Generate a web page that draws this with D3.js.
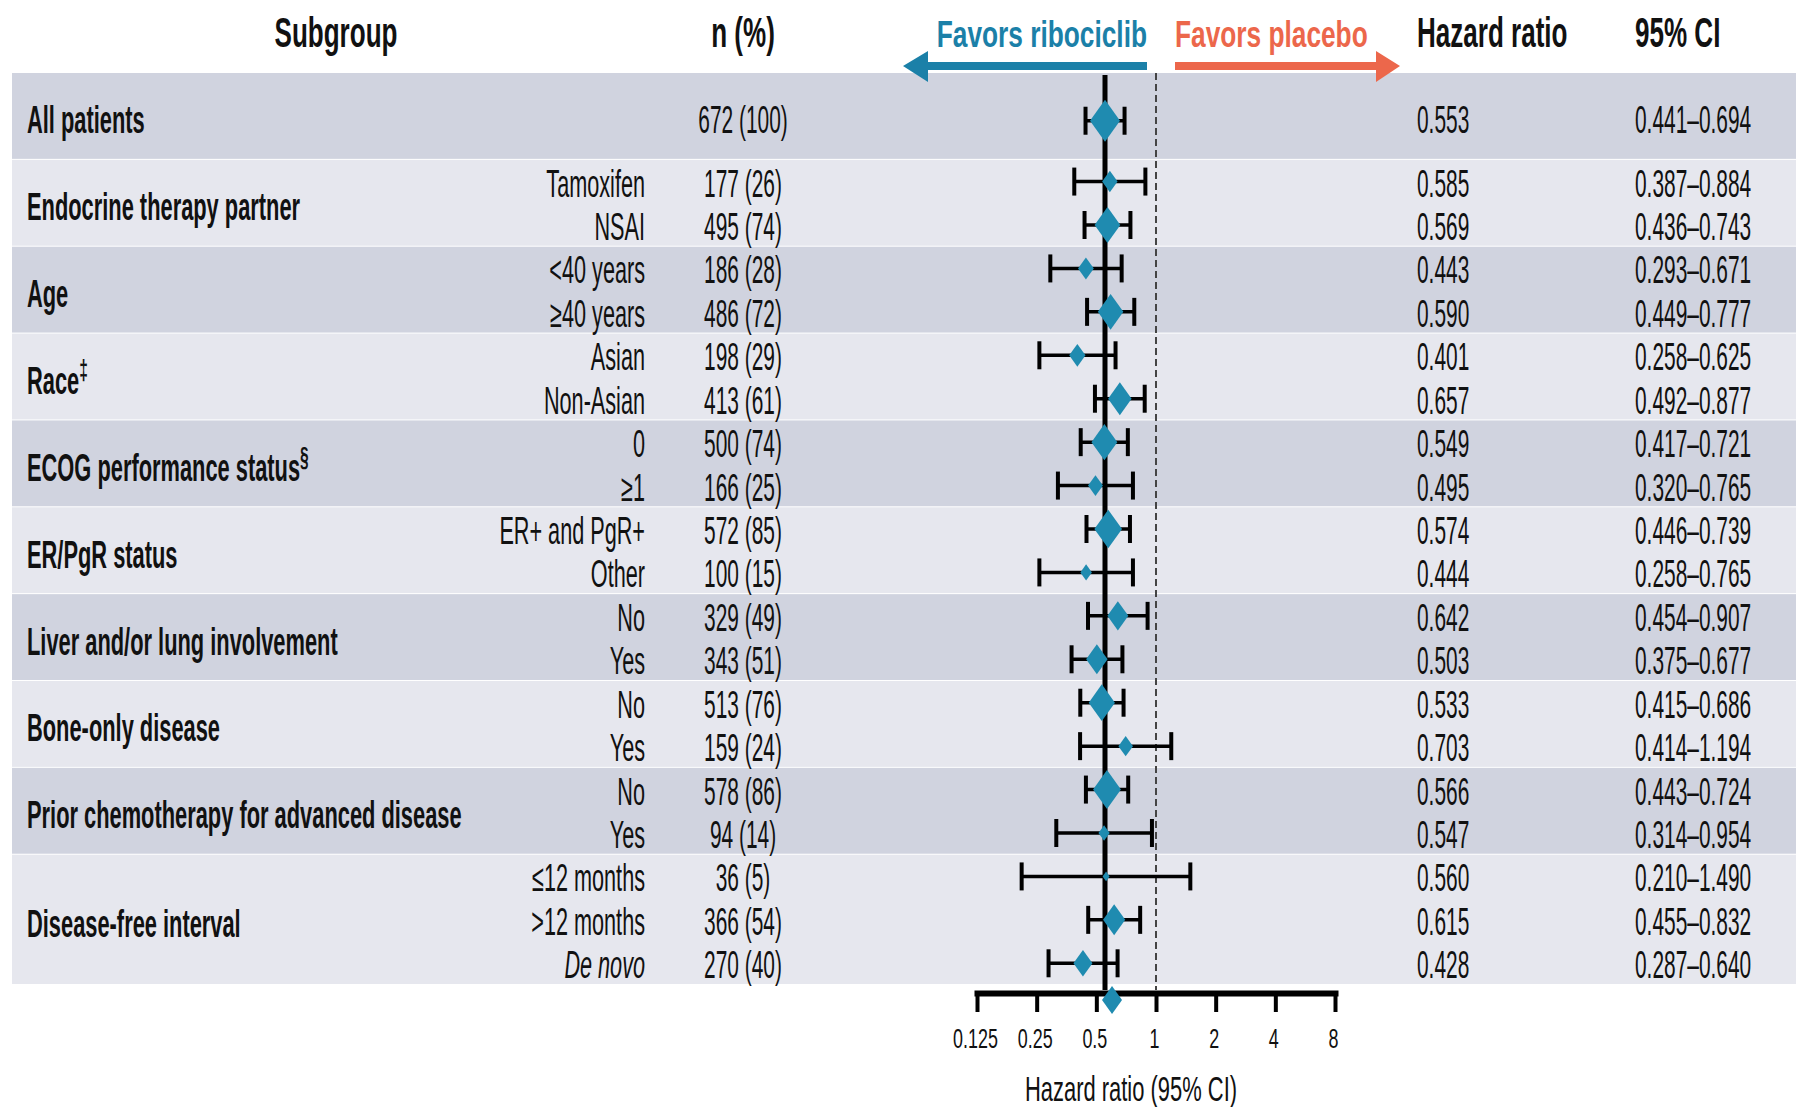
<!DOCTYPE html>
<html lang="en">
<head>
<meta charset="UTF-8">
<title>Subgroup forest plot</title>
<script src="https://d3js.org/d3.v7.min.js"></script>
<style>
  body { margin: 0; background: #fff; }
  text { font-family: "Liberation Sans", Arial, sans-serif; fill: #111; }
</style>
</head>
<body>
<script>
// ---- data ----
const groups = ["All patients", "Endocrine therapy partner", "Age", "Race", "ECOG performance status",
  "ER/PgR status", "Liver and/or lung involvement", "Bone-only disease",
  "Prior chemotherapy for advanced disease", "Disease-free interval"];
const groupMarks = ["", "", "", "‡", "§", "", "", "", "", ""];
const rowGroup = [0, 1, 1, 2, 2, 3, 3, 4, 4, 5, 5, 6, 6, 7, 7, 8, 8, 9, 9, 9];
const rowLabels = ["", "Tamoxifen", "NSAI", "<40 years", "≥40 years", "Asian", "Non-Asian", "0", "≥1",
  "ER+ and PgR+", "Other", "No", "Yes", "No", "Yes", "No", "Yes", "≤12 months", ">12 months", "De novo"];
const nPatients = [672, 177, 495, 186, 486, 198, 413, 500, 166, 572, 100, 329, 343, 513, 159, 578, 94, 36, 366, 270];
const nPercent = [100, 26, 74, 28, 72, 29, 61, 74, 25, 85, 15, 49, 51, 76, 24, 86, 14, 5, 54, 40];
const hazardRatio = [0.553, 0.585, 0.569, 0.443, 0.590, 0.401, 0.657, 0.549, 0.495, 0.574, 0.444,
  0.642, 0.503, 0.533, 0.703, 0.566, 0.547, 0.560, 0.615, 0.428];
const ciLower = [0.441, 0.387, 0.436, 0.293, 0.449, 0.258, 0.492, 0.417, 0.320, 0.446, 0.258,
  0.454, 0.375, 0.415, 0.414, 0.443, 0.314, 0.210, 0.455, 0.287];
const ciUpper = [0.694, 0.884, 0.743, 0.671, 0.777, 0.625, 0.877, 0.721, 0.765, 0.739, 0.765,
  0.907, 0.677, 0.686, 1.194, 0.724, 0.954, 1.490, 0.832, 0.640];
const tickValues = [0.125, 0.25, 0.5, 1, 2, 4, 8];
const axisMarkerHR = [0.60];

// ---- layout ----
const W = 1796, H = 1107;
const blue = "#1b80a8", red = "#ec674b", diamondFill = "#1f8bb0";
const bandDark = "#d0d3df", bandLight = "#e6e7ee";

// tall, narrow type: font size sets height, sx squeezes width
const TXT = {
  head:  { size: 42, weight: "bold",   sx: 0.62 },
  favor: { size: 36, weight: "bold",   sx: 0.73 },
  group: { size: 38, weight: "bold",   sx: 0.575 },
  body:  { size: 38, weight: "normal", sx: 0.57 },
  num:   { size: 38, weight: "normal", sx: 0.55 },
  tick:  { size: 28, weight: "normal", sx: 0.64 },
  title: { size: 36, weight: "normal", sx: 0.61 }
};

const svg = d3.select("body").append("svg").attr("width", W).attr("height", H);

function label(g, x, y, str, kind, anchor) {
  const s = TXT[kind];
  return g.append("text")
    .attr("transform", `translate(${x},${y}) scale(${s.sx},1)`)
    .attr("text-anchor", anchor || "start")
    .style("font-size", s.size + "px")
    .style("font-weight", s.weight)
    .text(str);
}

const x = d3.scaleLog().base(2).domain([0.125, 8]).range([977, 1335]);
const y = d3.scaleLinear().domain([0, 21]).range([73, 985]);
const halfW = d3.scaleSqrt().domain([0, 672]).range([0, 15]);

// band units per group (single-row group still takes two units)
const rowsPerGroup = groups.map((g, i) => rowGroup.filter(r => r === i).length);
const bandUnits = rowsPerGroup.map(n => Math.max(2, n));
const bandStart = bandUnits.map((u, i) => d3.sum(bandUnits.slice(0, i)));
const rowPos = rowGroup.map((gi, i) => {
  const k = rowGroup.slice(0, i).filter(r => r === gi).length;
  return rowsPerGroup[gi] === 1 ? bandStart[gi] + 1.03 : bandStart[gi] + 0.5 + k;
});

// bands
svg.append("g").selectAll("rect").data(groups).join("rect")
  .attr("x", 12).attr("width", W - 12)
  .attr("y", (d, i) => y(bandStart[i]))
  .attr("height", (d, i) => y(bandStart[i] + bandUnits[i]) - y(bandStart[i]) - 1)
  .attr("fill", (d, i) => i % 2 === 0 ? bandDark : bandLight);

// header
const head = svg.append("g");
label(head, 336, 47, "Subgroup", "head", "middle");
label(head, 743, 47, "n (%)", "head", "middle");
label(head, 1417, 47, "Hazard ratio", "head");
label(head, 1635, 47, "95% CI", "head");
label(head, 1147, 47, "Favors ribociclib", "favor", "end").style("fill", blue);
label(head, 1175, 47, "Favors placebo", "favor").style("fill", red);
head.append("path").attr("fill", blue)
  .attr("d", "M903,66 L928,51 L928,62 L1147,62 L1147,70 L928,70 L928,82 Z");
head.append("path").attr("fill", red)
  .attr("d", "M1400,66 L1376,51 L1376,62 L1175,62 L1175,70 L1376,70 L1376,82 Z");

// reference lines
svg.append("line")
  .attr("x1", x(1)).attr("x2", x(1)).attr("y1", 73).attr("y2", 990)
  .attr("stroke", "#444").attr("stroke-width", 2).attr("stroke-dasharray", "7,4");
svg.append("line")
  .attr("x1", x(hazardRatio[0])).attr("x2", x(hazardRatio[0])).attr("y1", 75).attr("y2", 990)
  .attr("stroke", "#000").attr("stroke-width", 5);

// group labels
const gl = svg.append("g");
groups.forEach((g, i) => {
  const cy = y(bandStart[i] + bandUnits[i] / 2);
  const t = label(gl, 27, cy + 17, g, "group");
  if (groupMarks[i]) {
    t.append("tspan").attr("baseline-shift", "super").style("font-size", "27px").text(groupMarks[i]);
  }
});

// row texts
const rt = svg.append("g");
rowLabels.forEach((s, i) => {
  const cy = y(rowPos[i]) + 15;
  if (s) {
    const t = label(rt, 645, cy, s, "body", "end");
    if (s === "De novo") t.style("font-style", "italic");
  }
  label(rt, 743, cy, `${nPatients[i]} (${nPercent[i]})`, "num", "middle");
  label(rt, 1417, cy, d3.format(".3f")(hazardRatio[i]), "num");
  label(rt, 1635, cy, `${d3.format(".3f")(ciLower[i])}–${d3.format(".3f")(ciUpper[i])}`, "num");
});

// error bars
const eb = svg.append("g").attr("stroke", "#000").attr("stroke-width", 3.5);
rowLabels.forEach((s, i) => {
  const cy = y(rowPos[i]) + (i === 0 ? 3 : 0);
  eb.append("line").attr("x1", x(ciLower[i])).attr("x2", x(ciUpper[i])).attr("y1", cy).attr("y2", cy);
  [ciLower[i], ciUpper[i]].forEach(v => {
    eb.append("line").attr("x1", x(v)).attr("x2", x(v)).attr("y1", cy - 14).attr("y2", cy + 14)
      .attr("stroke-width", 4);
  });
});

// diamonds sized by n
function diamond(cx, cy, w) {
  const h = w * 1.4;
  return `M${cx},${cy - h} L${cx + w},${cy} L${cx},${cy + h} L${cx - w},${cy} Z`;
}
svg.append("g").selectAll("path").data(hazardRatio).join("path")
  .attr("d", (d, i) => diamond(x(d), y(rowPos[i]) + (i === 0 ? 3 : 0), halfW(nPatients[i])))
  .attr("fill", diamondFill);

// x axis
const axisY = 993;
const ax = svg.append("g").attr("transform", `translate(0,${axisY})`)
  .call(d3.axisBottom(x).tickValues(tickValues).tickFormat(d => d)
    .tickSize(19).tickSizeOuter(0).tickPadding(16));
ax.select(".domain").attr("stroke", "#000").attr("stroke-width", 6).attr("stroke-linecap", "square");
ax.selectAll(".tick line").attr("stroke", "#000").attr("stroke-width", 4);
ax.selectAll(".tick text")
  .attr("transform", `translate(-2,0) scale(${TXT.tick.sx},1)`)
  .style("font-size", TXT.tick.size + "px")
  .style("font-family", '"Liberation Sans", Arial, sans-serif')
  .attr("fill", "#111");

svg.append("g").selectAll("path").data(axisMarkerHR).join("path")
  .attr("d", d => diamond(x(d), axisY + 7, 10))
  .attr("fill", diamondFill);

label(svg, 1131, 1101, "Hazard ratio (95% CI)", "title", "middle");
</script>
</body>
</html>
